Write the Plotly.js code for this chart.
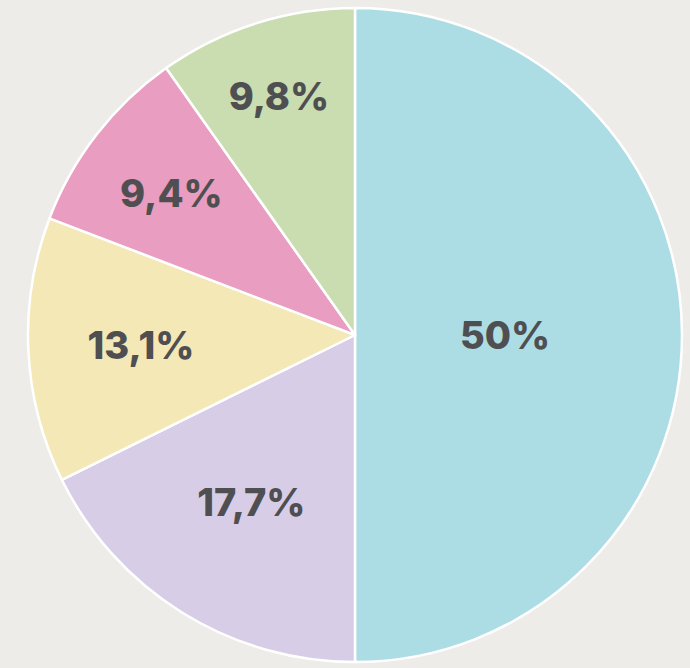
<!DOCTYPE html>
<html>
<head>
<meta charset="utf-8">
<script src="https://cdn.plot.ly/plotly-3.0.1.min.js"></script>
<style>
html,body{margin:0;padding:0;background:#edece9;}
#chart{width:690px;height:668px;}
</style>
</head>
<body>
<div id="chart"></div>
<script>
const categories = ["A", "B", "C", "D", "E"];
const values = [50, 17.7, 13.1, 9.4, 9.8];
const colors = ["#addde4", "#d8cde7", "#f3e8b6", "#e99dc1", "#c9ddb1"];
const labelsText = values.map(v => String(v).replace('.', ',') + '%');
// which labels sit on the outer (full-size) layer
const outerLabel = [false, false, false, false, true];

const font = {family: 'Inter, sans-serif', size: 38, color: '#4f4f52', weight: 800};
const common = {
  type: 'pie',
  labels: categories,
  values: values,
  sort: false,
  direction: 'clockwise',
  rotation: 0,
  hoverinfo: 'none',
  textinfo: 'text',
  textposition: 'inside',
  insidetextorientation: 'horizontal',
  textfont: font
};

Plotly.newPlot('chart', [
  Object.assign({}, common, {
    text: labelsText.map((t, i) => outerLabel[i] ? t : ''),
    marker: {colors: colors, line: {color: '#ffffff', width: 2.5}},
    domain: {x: [28/690, 682/690], y: [6/668, 660/668]}
  }),
  Object.assign({}, common, {
    text: labelsText.map((t, i) => outerLabel[i] ? '' : t),
    marker: {colors: categories.map(() => 'rgba(0,0,0,0)'), line: {width: 0}},
    domain: {x: [55/690, 655/690], y: [33/668, 633/668]}
  })
], {
  width: 690, height: 668,
  margin: {l: 0, r: 0, t: 0, b: 0},
  paper_bgcolor: '#edece9',
  showlegend: false
}, {displayModeBar: false, staticPlot: true});
</script>
</body>
</html>
